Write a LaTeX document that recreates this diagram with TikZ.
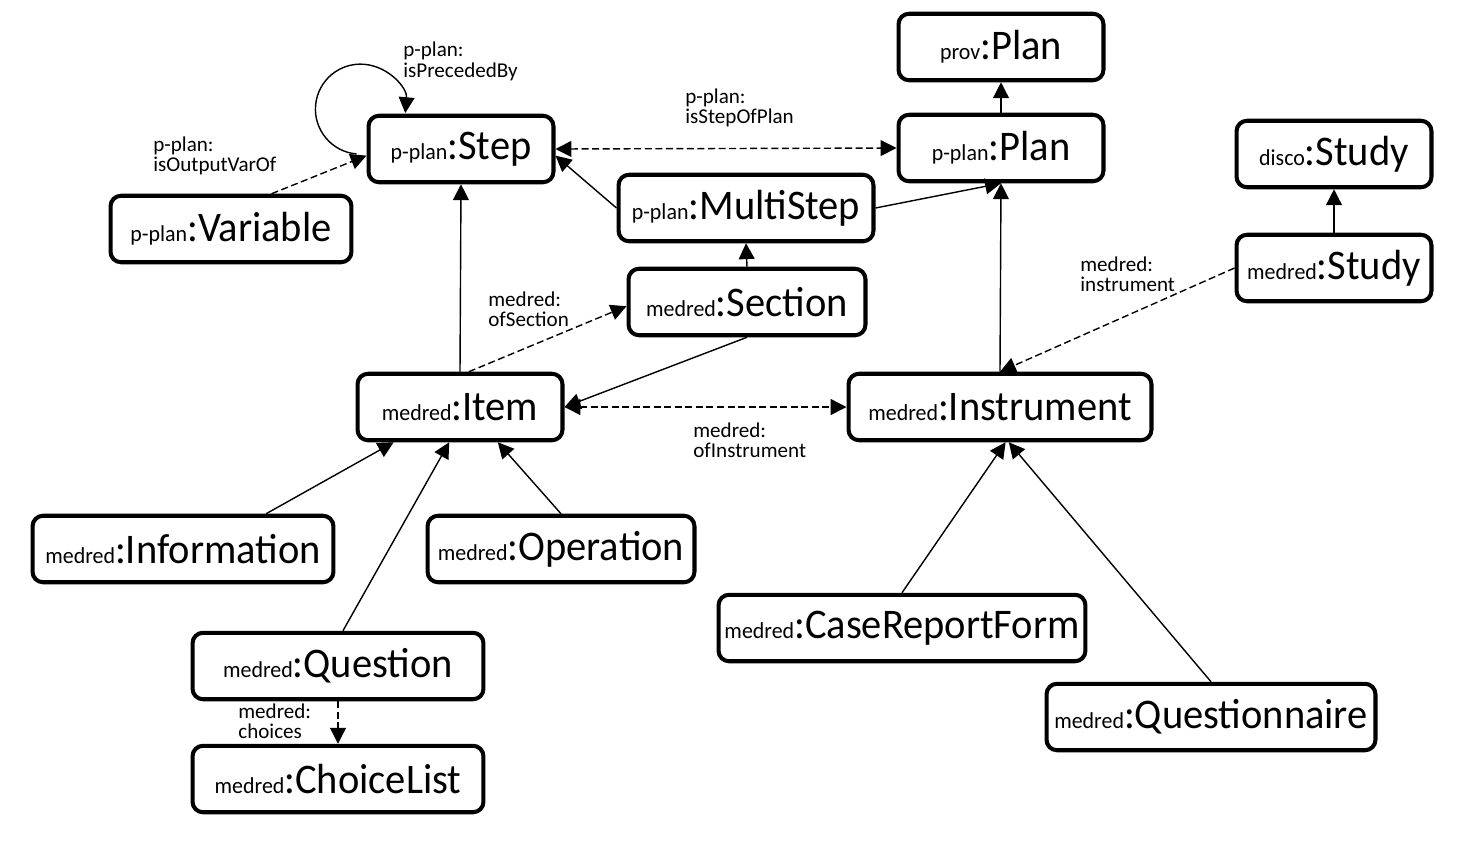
\documentclass[tikz,border=0pt]{standalone}
\usepackage{fontspec}
\setmainfont{Carlito}
\newfontfamily\clsfont{Carlito}[FakeStretch=0.96]
\usetikzlibrary{arrows.meta}
\newcommand{\onto}[2]{\clsfont{\fontsize{13}{15}\selectfont #1}{\fontsize{24}{26}\selectfont :#2}}

\begin{document}
\begin{tikzpicture}[x=0.02cm,y=-0.02cm,%[pixel grid of the sketch]
	cls/.style={draw,line width=2.3pt,rounded corners=6pt,minimum height=1.33cm,inner sep=2pt},
	sub/.style={-{Triangle[length=9pt,width=9pt]},line width=.8pt},
	rel/.style={sub,dash pattern=on 4pt off 2pt},
	relboth/.style={rel,{Triangle[length=9pt,width=9pt]}-{Triangle[length=9pt,width=9pt]}},
	lab/.style={font=\fontsize{12}{11.5}\selectfont,align=left,inner sep=0pt,anchor=north west}]
	\useasboundingbox (0,0) rectangle (1458,840);
	% plan side
	\node[cls,minimum width=4.1cm] (provPlan) at (1001,47) {\onto{prov}{Plan}};
	\node[cls,minimum width=4.1cm] (pPlan) at (1001,148) {\onto{p-plan}{Plan}};
	\node[cls,minimum width=3.7cm] (step) at (461,149) {\onto{p-plan}{Step}};
	\node[cls,minimum width=4.82cm] (variable) at (231,229) {\onto{p-plan}{Variable}};
	\node[cls,minimum width=5.1cm] (multiStep) at (746,208) {\onto{p-plan}{MultiStep}};
	\node[cls,minimum width=4.74cm] (section) at (747,302) {\onto{medred}{Section}};
	\node[cls,minimum width=3.9cm] (discoStudy) at (1334,154) {\onto{disco}{Study}};
	\node[cls,minimum width=3.9cm] (medStudy) at (1334,268) {\onto{medred}{Study}};
	% medred classes
	\node[cls,minimum width=4.1cm] (item) at (460,407) {\onto{medred}{Item}};
	\node[cls,minimum width=6.06cm] (instrument) at (1000,407) {\onto{medred}{Instrument}};
	\node[cls,minimum width=6.02cm] (information) at (183,549) {\onto{medred}{Information}};
	\node[cls,minimum width=5.34cm] (operation) at (561,549) {\onto{medred}{Operation}};
	\node[cls,minimum width=5.82cm] (question) at (338,666) {\onto{medred}{Question}};
	\node[cls,minimum width=5.82cm] (choiceList) at (338,779) {\onto{medred}{ChoiceList}};
	\node[cls,minimum width=7.34cm] (caseReportForm) at (902,628) {\onto{medred}{CaseReportForm}};
	\node[cls,minimum width=6.58cm] (questionnaire) at (1211,717) {\onto{medred}{Questionnaire}};
	% properties
	\node[lab] (lPreceded) at (403,42) {p-plan:\\isPrecededBy};
	\node[lab] (lOutputVar) at (153,136) {p-plan:\\isOutputVarOf};
	\node[lab] (lStepOfPlan) at (685,88) {p-plan:\\isStepOfPlan};
	\node[lab] (lOfSection) at (488,291) {medred:\\ofSection};
	\node[lab] (lOfInstrument) at (693,422) {medred:\\ofInstrument};
	\node[lab] (lInstrument) at (1080,256) {medred:\\instrument};
	\node[lab] (lChoices) at (238,703) {medred:\\choices};
	\draw[sub] ([xshift=-.2cm]step.183) arc[start angle=95,end angle=365,radius=45];
	\draw[rel] (variable.41) -- (step.184);
	\draw[relboth] (step.east) -- (pPlan.west);
	\draw[sub] (multiStep.west) -- (step.-4);
	\draw[sub] (multiStep.east) -- (pPlan.south);
	\draw[sub] (pPlan.north) -- (provPlan.south);
	\draw[sub] (section.north) -- (multiStep.south);
	\draw[sub] (section.south) -- (item.east);
	\draw[rel] (item.76) -- (section.182);
	\draw[sub] (item.north) -- (step.south);
	\draw[relboth] (item.east) -- (instrument.west);
	\draw[sub] (instrument.north) -- (pPlan.south);
	\draw[rel] (medStudy.west) -- (instrument.north);
	\draw[sub] (medStudy.north) -- (discoStudy.south);
	\foreach \from/\at in {information.23/208,question.82/253,operation.north/-43}
		\draw[sub] (\from) -- (item.\at);
	\draw[rel] (question.south) -- (choiceList.north);
	\foreach \from/\at in {caseReportForm.north/-81,questionnaire.north/-76}
		\draw[sub] (\from) -- (instrument.\at);
\end{tikzpicture}
\end{document}
